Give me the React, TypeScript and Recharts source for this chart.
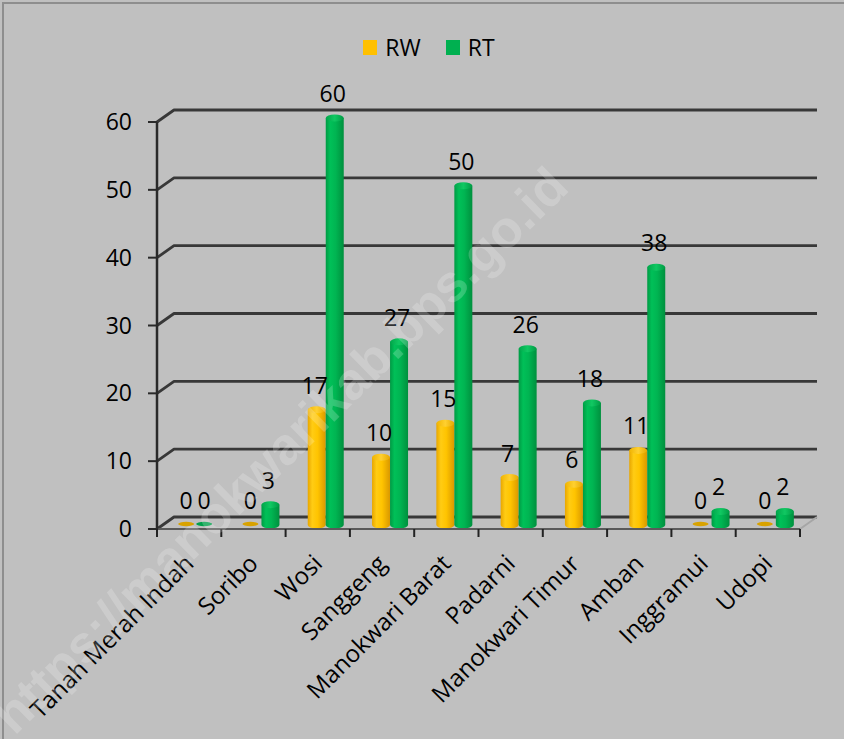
import React from 'react';
import { BarChart, Bar, XAxis, YAxis, ReferenceLine, Legend, LabelList } from 'recharts';

const categories = ['Tanah Merah Indah', 'Soribo', 'Wosi', 'Sanggeng', 'Manokwari Barat', 'Padarni', 'Manokwari Timur', 'Amban', 'Inggramui', 'Udopi'];
const rwValues = [0, 0, 17, 10, 15, 7, 6, 11, 0, 0];
const rtValues = [0, 3, 60, 27, 50, 26, 18, 38, 2, 2];
const yTicks = [0, 10, 20, 30, 40, 50, 60];
const seriesOrder = ['RW', 'RT'];

const data = categories.map((name, i) => ({ name, RW: rwValues[i], RT: rtValues[i] }));

const FONT = "'Open Sans', 'Noto Sans', sans-serif";
const DX = 17; // depth offset x
const DY = 12; // depth offset y
const BX = 8; // bar depth shift x
const BY = 4; // bar depth shift y

const GridShape = (props: any) => {
  const x1 = Number(props.x1), y1 = Number(props.y1), x2 = Number(props.x2), y2 = Number(props.y2);
  const isFloor = props.isFloor;
  return (
    <g>
      <path
        d={`M${x1},${y1} L${x1 + DX},${y1 - DY} L${x2 + DX},${y2 - DY}`}
        fill="none"
        stroke="#383838"
        strokeWidth={2.8}
        strokeLinejoin="round"
      />
      {isFloor ? (
        <path d={`M${x2},${y2} L${x2 + DX},${y2 - DY}`} stroke="#a6a6a6" strokeWidth={2} fill="none" />
      ) : null}
    </g>
  );
};

const makeCylinder = (bodyId: string, capId: string, discColor: string) => (props: any) => {
  const x = Number(props.x), y = Number(props.y), width = Number(props.width), height = Number(props.height) || 0;
  const sx = x + BX;
  const w = width;
  const cx = sx + w / 2;
  const rx = w / 2;
  const ry = 3.5;
  const bottom = y + height - BY;
  const top = y - BY;
  if (height < 1) {
    return <ellipse cx={cx - 2} cy={bottom - 1} rx={rx - 1} ry={2.2} fill={discColor} />;
  }
  return (
    <g>
      <path
        d={`M${sx},${top} L${sx},${bottom} A${rx},${ry} 0 0 0 ${sx + w},${bottom} L${sx + w},${top} Z`}
        fill={`url(#${bodyId})`}
      />
      <ellipse cx={cx} cy={top} rx={rx} ry={ry} fill={`url(#${capId})`} />
    </g>
  );
};

const ValueLabel = (props: any) => {
  const x = Number(props.x), y = Number(props.y), width = Number(props.width);
  return (
    <text x={x + width / 2 + BX - 2} y={y - 20} textAnchor="middle" fontSize={23} fontFamily={FONT} fill="#000">
      {props.value}
    </text>
  );
};

const CatTick = (props: any) => {
  const { x, y, payload, index, visibleTicksCount } = props;
  const half = payload && typeof payload.offset === 'number' && payload.offset > 0 ? payload.offset : 32.15;
  const isLast = index === (visibleTicksCount ?? categories.length) - 1;
  const ax = Number(x) + 6;
  const ay = Number(y) + 36;
  return (
    <g>
      <line x1={x - half} y1={y} x2={x - half} y2={y + 8} stroke="#222" strokeWidth={2} />
      {isLast ? <line x1={x + half} y1={y} x2={x + half} y2={y + 8} stroke="#222" strokeWidth={2} /> : null}
      <text x={ax} y={ay} textAnchor="end" fontSize={24} fontFamily={FONT} fill="#000" transform={`rotate(-45 ${ax} ${ay})`}>
        {payload.value}
      </text>
    </g>
  );
};

const LegendContent = (props: any) => {
  const payload = [...(props.payload || [])].sort(
    (a: any, b: any) => seriesOrder.indexOf(a.value) - seriesOrder.indexOf(b.value)
  );
  return (
    <div style={{ display: 'flex', justifyContent: 'center', alignItems: 'center', height: 20, paddingLeft: 14 }}>
      {payload.map((p: any, i: number) => (
        <div key={i} style={{ display: 'flex', alignItems: 'center', marginRight: i === payload.length - 1 ? 0 : 25 }}>
          <div style={{ width: 14, height: 15, background: p.color, marginRight: 8 }} />
          <span style={{ fontFamily: FONT, fontSize: 23, color: '#000', lineHeight: '20px' }}>{p.value}</span>
        </div>
      ))}
    </div>
  );
};

export default function App() {
  return (
    <div style={{ position: 'absolute', left: 0, top: 0, width: 844, height: 739, background: '#c0c0c0', overflow: 'hidden' }}>
      <div style={{ position: 'absolute', left: 2, top: 2, width: 900, height: 800, border: '2px solid #8e8e8e', boxSizing: 'border-box' }} />
      <div style={{ position: 'absolute', left: 0, top: 0 }}>
        <BarChart
          width={844}
          height={739}
          data={data}
          margin={{ top: 122, right: 44, bottom: 180, left: 97 }}
          barCategoryGap="22%"
          barGap={0}
        >
          <defs>
            <linearGradient id="rwBody" x1="0" y1="0" x2="1" y2="0">
              <stop offset="0%" stopColor="#e8a600" />
              <stop offset="25%" stopColor="#ffcc14" />
              <stop offset="55%" stopColor="#ffc400" />
              <stop offset="100%" stopColor="#d99800" />
            </linearGradient>
            <linearGradient id="rwCap" x1="0" y1="0" x2="1" y2="0">
              <stop offset="0%" stopColor="#f0b400" />
              <stop offset="50%" stopColor="#ffd030" />
              <stop offset="100%" stopColor="#e6a800" />
            </linearGradient>
            <linearGradient id="rtBody" x1="0" y1="0" x2="1" y2="0">
              <stop offset="0%" stopColor="#009a44" />
              <stop offset="25%" stopColor="#00c058" />
              <stop offset="55%" stopColor="#00b552" />
              <stop offset="100%" stopColor="#00903e" />
            </linearGradient>
            <linearGradient id="rtCap" x1="0" y1="0" x2="1" y2="0">
              <stop offset="0%" stopColor="#00a64a" />
              <stop offset="50%" stopColor="#10c862" />
              <stop offset="100%" stopColor="#009a44" />
            </linearGradient>
          </defs>
          {yTicks.map((t) => (
            <ReferenceLine
              key={t}
              y={t}
              ifOverflow="visible"
              zIndex={-10}
              shape={(p: any) => <GridShape {...p} isFloor={t === 0} />}
            />
          ))}
          <XAxis
            dataKey="name"
            type="category"
            interval={0}
            height={30}
            tickSize={0}
            tickMargin={0}
            tickLine={false}
            axisLine={{ stroke: '#5a5a5a', strokeWidth: 2 }}
            tick={<CatTick />}
          />
          <YAxis
            type="number"
            domain={[0, 60]}
            ticks={yTicks}
            width={60}
            tickSize={9}
            tickMargin={16}
            axisLine={{ stroke: '#2a2a2a', strokeWidth: 2.5 }}
            tickLine={{ stroke: '#2a2a2a', strokeWidth: 2 }}
            tick={{ fill: '#000', fontSize: 23, fontFamily: FONT }}
          />
          <Legend
            layout="horizontal"
            verticalAlign="middle"
            align="center"
            wrapperStyle={{ top: 37, left: 0, width: 844, height: 20 }}
            content={<LegendContent />}
          />
          <Bar dataKey="RW" name="RW" fill="#ffc000" isAnimationActive={false} shape={makeCylinder('rwBody', 'rwCap', '#d8a200')}>
            <LabelList dataKey="RW" content={<ValueLabel />} />
          </Bar>
          <Bar dataKey="RT" name="RT" fill="#00b050" isAnimationActive={false} shape={makeCylinder('rtBody', 'rtCap', '#00a04a')}>
            <LabelList dataKey="RT" content={<ValueLabel />} />
          </Bar>
        </BarChart>
      </div>
      <div
        style={{
          position: 'absolute',
          left: -130,
          top: 420,
          width: 820,
          textAlign: 'center',
          fontFamily: "'Liberation Sans', Arial, sans-serif",
          fontWeight: 'bold',
          fontSize: 52,
          lineHeight: '60px',
          color: 'rgba(255,255,255,0.2)',
          transform: 'rotate(-44.5deg)',
          transformOrigin: 'center center',
          pointerEvents: 'none',
          whiteSpace: 'nowrap',
        }}
      >
        https://manokwarikab.bps.go.id
      </div>
    </div>
  );
}
